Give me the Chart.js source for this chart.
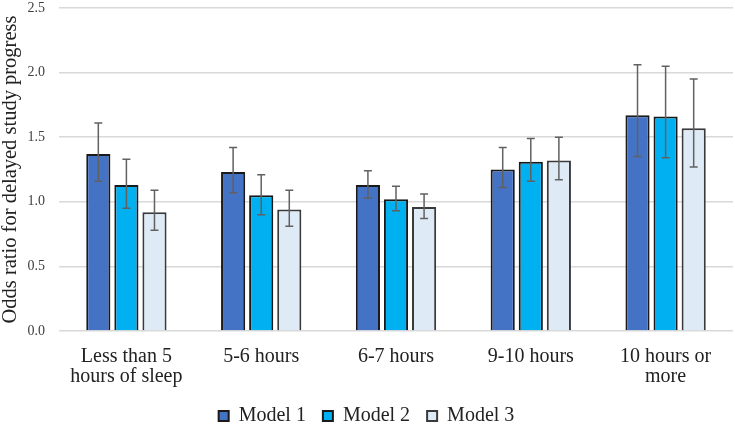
<!DOCTYPE html>
<html><head><meta charset="utf-8">
<script src="https://cdn.jsdelivr.net/npm/chart.js@4"></script>
<style>html,body{margin:0;padding:0;background:#fff}#wrap{width:735px;height:429px}</style>
</head><body><div id="wrap"><canvas id="c"></canvas></div>
<script>
const categories = [["Less than 5","hours of sleep"],"5-6 hours","6-7 hours","9-10 hours",["10 hours or","more"]];
const model1 = [1.37, 1.23, 1.13, 1.25, 1.67];
const model1Low = [1.16, 1.07, 1.03, 1.11, 1.35];
const model1High = [1.61, 1.42, 1.24, 1.42, 2.06];
const model2 = [1.13, 1.05, 1.02, 1.31, 1.66];
const model2Low = [0.95, 0.90, 0.93, 1.16, 1.34];
const model2High = [1.33, 1.21, 1.12, 1.49, 2.05];
const model3 = [0.92, 0.94, 0.96, 1.32, 1.57];
const model3Low = [0.78, 0.81, 0.87, 1.17, 1.27];
const model3High = [1.09, 1.09, 1.06, 1.50, 1.95];
const yTicks = [0, 0.5, 1.0, 1.5, 2.0, 2.5];

const errorBars = {
  id: 'errorBars',
  afterDatasetsDraw(chart) {
    const ctx = chart.ctx, y = chart.scales.y;
    chart.data.datasets.forEach((ds, i) => {
      const meta = chart.getDatasetMeta(i);
      meta.data.forEach((bar, j) => {
        const lo = y.getPixelForValue(ds.errLow[j]);
        const hi = y.getPixelForValue(ds.errHigh[j]);
        const x = bar.x;
        ctx.save();
        ctx.strokeStyle = '#616161';
        ctx.lineWidth = 1.5;
        ctx.beginPath();
        ctx.moveTo(x, lo); ctx.lineTo(x, hi);
        ctx.moveTo(x - 4, lo); ctx.lineTo(x + 4, lo);
        ctx.moveTo(x - 4, hi); ctx.lineTo(x + 4, hi);
        ctx.stroke();
        ctx.restore();
      });
    });
  }
};

const font = "'Liberation Serif', 'Times New Roman', serif";
new Chart(document.getElementById('c'), {
  type: 'bar',
  data: {
    labels: categories,
    datasets: [
      {label: 'Model 1', data: model1, errLow: model1Low, errHigh: model1High, backgroundColor: '#4472C4', borderColor: '#1a1a1a', borderWidth: 2},
      {label: 'Model 2', data: model2, errLow: model2Low, errHigh: model2High, backgroundColor: '#00B0F0', borderColor: '#1a1a1a', borderWidth: 2},
      {label: 'Model 3', data: model3, errLow: model3Low, errHigh: model3High, backgroundColor: '#DEEBF7', borderColor: '#3a3a3a', borderWidth: 2}
    ]
  },
  options: {
    responsive: true, maintainAspectRatio: false, animation: false,
    devicePixelRatio: 1,
    categoryPercentage: 0.625, barPercentage: 0.86,
    layout: {autoPadding: false, padding: {top: 8, right: 2, left: 0, bottom: -7}},
    plugins: {
      legend: {position: 'bottom', labels: {font: {family: font, size: 20}, color: '#222', boxWidth: 10, boxHeight: 10, padding: 17, useBorderRadius: false}},
      tooltip: {enabled: false}
    },
    scales: {
      x: {
        grid: {display: false}, border: {display: false},
        afterFit(scale) { scale.height = 58; scale.paddingLeft = 0; scale.paddingRight = 0; },
        ticks: {font: {family: font, size: 20, lineHeight: 1.0}, color: '#222', maxRotation: 0, padding: 8}
      },
      y: {
        min: 0, max: 2.5,
        afterBuildTicks(axis) { axis.ticks = yTicks.map(v => ({value: v})); },
        afterFit(scale) { scale.width = 59; scale.paddingTop = 0; scale.paddingBottom = 0; },
        grid: {color: '#d9d9d9', lineWidth: 1.5, drawTicks: false},
        border: {display: false},
        ticks: {font: {family: font, size: 14}, color: '#404040', padding: 14, callback: v => v.toFixed(1)},
        title: {display: true, text: 'Odds ratio for delayed study progress', font: {family: font, size: 20.5, lineHeight: 1.0}, color: '#222', padding: 0}
      }
    }
  },
  plugins: [errorBars]
});
</script></body></html>
